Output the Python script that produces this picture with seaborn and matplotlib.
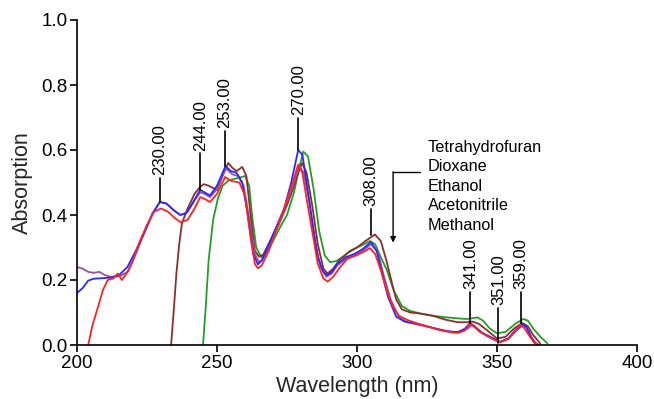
import numpy as np
import pandas as pd
import matplotlib
matplotlib.use("Agg")
import matplotlib.pyplot as plt
import seaborn as sns

# ---------------- data ----------------
blue_x = [200, 202, 204, 206, 208, 211.8, 215, 218, 221, 224, 227, 229.6, 232, 234.5, 236.8, 239, 241.5, 244, 245.5, 247.5, 250, 253, 255, 257, 259, 261, 263, 264.6, 266, 268, 271, 274, 276.5, 279, 280.5, 282, 284, 286, 288, 289.5, 291, 293, 296, 299, 302, 305, 307, 309, 311, 314, 317, 320, 324, 328, 332, 336, 338.5, 340.4, 342, 344, 347, 351, 354, 356.5, 359, 360.5, 362, 363.6]
blue_y = [.16, .175, .198, .204, .205, .207, .215, .24, .29, .345, .405, .44, .435, .415, .40, .405, .44, .477, .47, .46, .49, .55, .535, .53, .50, .40, .28, .248, .26, .30, .36, .42, .50, .60, .585, .50, .38, .27, .225, .215, .225, .25, .27, .28, .295, .317, .29, .22, .15, .087, .072, .068, .06, .05, .042, .04, .05, .068, .058, .04, .028, .01, .02, .045, .065, .055, .025, .005]

purple_x = [200, 202, 204, 206, 208, 210, 212, 214, 216, 218, 221, 224, 227, 229.6, 232, 234.5, 237, 239.5, 242, 244, 245.5, 247.5, 250, 253, 255.5, 257.5, 259.5, 261.5, 263.5, 265, 266.5, 269, 272, 275, 277.5, 279.3, 281, 283, 285, 287, 289, 291, 293, 296, 299, 302, 305, 307.5, 309.5, 312, 315, 318, 322, 326, 330, 334, 337, 339.5, 341, 343, 346, 351, 354, 357, 359.5, 361, 362.5, 364]
purple_y = [.24, .235, .225, .222, .225, .215, .21, .21, .215, .225, .28, .345, .405, .44, .435, .415, .40, .41, .445, .47, .465, .455, .48, .545, .525, .52, .49, .39, .28, .255, .265, .31, .37, .44, .50, .55, .53, .44, .32, .24, .21, .22, .245, .265, .275, .29, .31, .285, .215, .14, .085, .07, .062, .055, .047, .04, .04, .05, .062, .05, .03, .008, .02, .045, .062, .05, .022, .004]

red_x = [204, 205.5, 207.5, 209.3, 211, 213, 214.6, 216, 218.5, 220, 222, 225, 227.5, 230, 232.5, 235, 237, 239.5, 242, 244, 245.5, 247.5, 250, 252.9, 255, 258, 260, 262, 263.5, 264.6, 266, 268.5, 271.4, 274, 277, 279, 280.5, 282, 284, 286, 288, 289.5, 291.5, 294, 296.5, 299.5, 302, 304.6, 306.5, 308.5, 310.5, 312.9, 315, 318, 322, 326, 330, 333, 336, 338.5, 340.4, 342, 344, 347, 351, 354, 356.5, 358, 359.5, 361, 363, 365]
red_y = [0, .06, .117, .17, .20, .205, .22, .20, .23, .26, .31, .37, .41, .42, .41, .39, .378, .385, .42, .455, .45, .44, .465, .517, .505, .50, .46, .33, .25, .236, .245, .29, .36, .42, .50, .555, .53, .45, .35, .25, .205, .195, .21, .24, .265, .275, .285, .298, .28, .23, .17, .117, .09, .077, .065, .055, .045, .04, .037, .045, .065, .055, .04, .025, .008, .018, .042, .062, .055, .035, .01, 0]

brown_x = [233.6, 234.5, 235.5, 236.5, 237.5, 239.5, 242, 244, 245.3, 247, 250, 252, 254, 255.5, 257, 259, 260.5, 262, 263.5, 265, 266.5, 269, 272, 275, 277, 279, 280.4, 282, 284, 286, 288, 289.5, 291.5, 294, 297, 300, 303, 306.4, 308.5, 310.5, 312.5, 314, 316, 319, 322.5, 327, 332, 336, 339, 341.4, 343.5, 346.5, 350, 353, 356, 359, 361, 363, 365.4]
brown_y = [0, .10, .22, .31, .375, .42, .465, .487, .495, .49, .477, .52, .56, .545, .535, .548, .52, .40, .29, .272, .278, .32, .37, .43, .477, .53, .56, .53, .43, .31, .235, .22, .235, .265, .285, .30, .32, .34, .32, .26, .19, .14, .11, .10, .097, .09, .077, .07, .07, .072, .065, .045, .02, .025, .05, .068, .058, .03, .005]

green_x = [245, 246, 247, 248.6, 250.3, 252, 254, 255.7, 258, 260, 261.5, 262.5, 264, 265.8, 267.5, 270, 273, 275, 277.5, 279.5, 280.8, 282.5, 284.5, 286.5, 288.5, 290.4, 292.5, 295, 297.5, 300, 302.5, 304.6, 306.5, 308.5, 310.7, 313, 316, 319, 322.5, 327, 332, 336, 339, 341, 343, 345, 347.5, 350, 353, 356.5, 359.4, 361, 363, 365.5, 368]
green_y = [0, .12, .26, .385, .45, .49, .505, .51, .515, .52, .49, .40, .30, .27, .28, .32, .37, .40, .47, .55, .595, .58, .48, .35, .275, .255, .258, .27, .29, .30, .31, .32, .31, .27, .23, .17, .12, .105, .097, .09, .085, .082, .08, .082, .085, .075, .05, .036, .04, .065, .08, .075, .05, .025, .005]

solvents = ["Tetrahydrofuran", "Dioxane", "Ethanol", "Acetonitrile", "Methanol"]

peak_labels = ["230.00", "244.00", "253.00", "270.00", "308.00", "341.00", "351.00", "359.00"]
peak_x = [229.6, 244.0, 252.9, 279.0, 305.0, 340.5, 350.5, 358.6]
peak_base = [0.44, 0.477, 0.55, 0.60, 0.34, 0.068, 0.006, 0.068]
peak_top = [0.514, 0.59, 0.66, 0.70, 0.42, 0.163, 0.114, 0.163]

x_ticks = [200, 250, 300, 350, 400]
y_ticks = [0.0, 0.2, 0.4, 0.6, 0.8, 1.0]

# ---------------- frame ----------------
series = [("green", green_x, green_y), ("brown", brown_x, brown_y),
          ("purple", purple_x, purple_y), ("blue", blue_x, blue_y),
          ("red", red_x, red_y)]
frames = []
for name, xs, ys in series:
    frames.append(pd.DataFrame({"wl": xs, "abs": ys, "s": name}))
df = pd.concat(frames, ignore_index=True)

palette = {"green": "#22a022", "brown": "#8c2e2e", "purple": "#9e4f9e",
           "blue": "#2a2aff", "red": "#ff2222"}

sns.set_style("ticks")
plt.rcParams["font.family"] = ["Liberation Sans", "DejaVu Sans"]

fig = plt.figure(figsize=(6.54, 3.99), dpi=100)
ax = fig.add_axes([77/654, 54/399, 560/654, 325/399])

sns.lineplot(data=df, x="wl", y="abs", hue="s", palette=palette,
             sort=False, estimator=None, units="s", lw=1.3, legend=False, ax=ax)

ax.set_xlim(200, 400)
ax.set_ylim(0, 1.0)
ax.set_xticks(x_ticks)
ax.set_yticks(y_ticks)
ax.set_yticklabels([f"{v:.1f}" for v in y_ticks])
ax.tick_params(axis="both", labelsize=13.5, length=5, width=1.2, color="black",
               labelcolor="black", direction="out", pad=2)
for sp in ["top", "right"]:
    ax.spines[sp].set_visible(False)
for sp in ["left", "bottom"]:
    ax.spines[sp].set_color("black")
    ax.spines[sp].set_linewidth(1.2)

ax.set_xlabel("Wavelength (nm)", fontsize=15.5, labelpad=3)
ax.set_ylabel("Absorption", fontsize=15.5, labelpad=6)

for lab, px, pb, pt in zip(peak_labels, peak_x, peak_base, peak_top):
    ax.plot([px, px], [pb, pt], color="black", lw=1.2, clip_on=False)
    ax.text(px, pt + 0.008, lab, rotation=90, ha="center", va="bottom",
            fontsize=12, color="black")

# legend-like text list with arrow
text_y = [0.609, 0.548, 0.489, 0.428, 0.369]
for s, ty in zip(solvents, text_y):
    ax.text(325.3, ty, s, ha="left", va="center", fontsize=11.7, color="black")
ax.plot([322.5, 312.9], [0.533, 0.533], color="black", lw=1.0)
ax.annotate("", xy=(312.9, 0.315), xytext=(312.9, 0.533),
            arrowprops=dict(arrowstyle="-|>", color="black", lw=1.0,
                            mutation_scale=8, shrinkA=0, shrinkB=0))

fig.savefig("out.png", dpi=100)
